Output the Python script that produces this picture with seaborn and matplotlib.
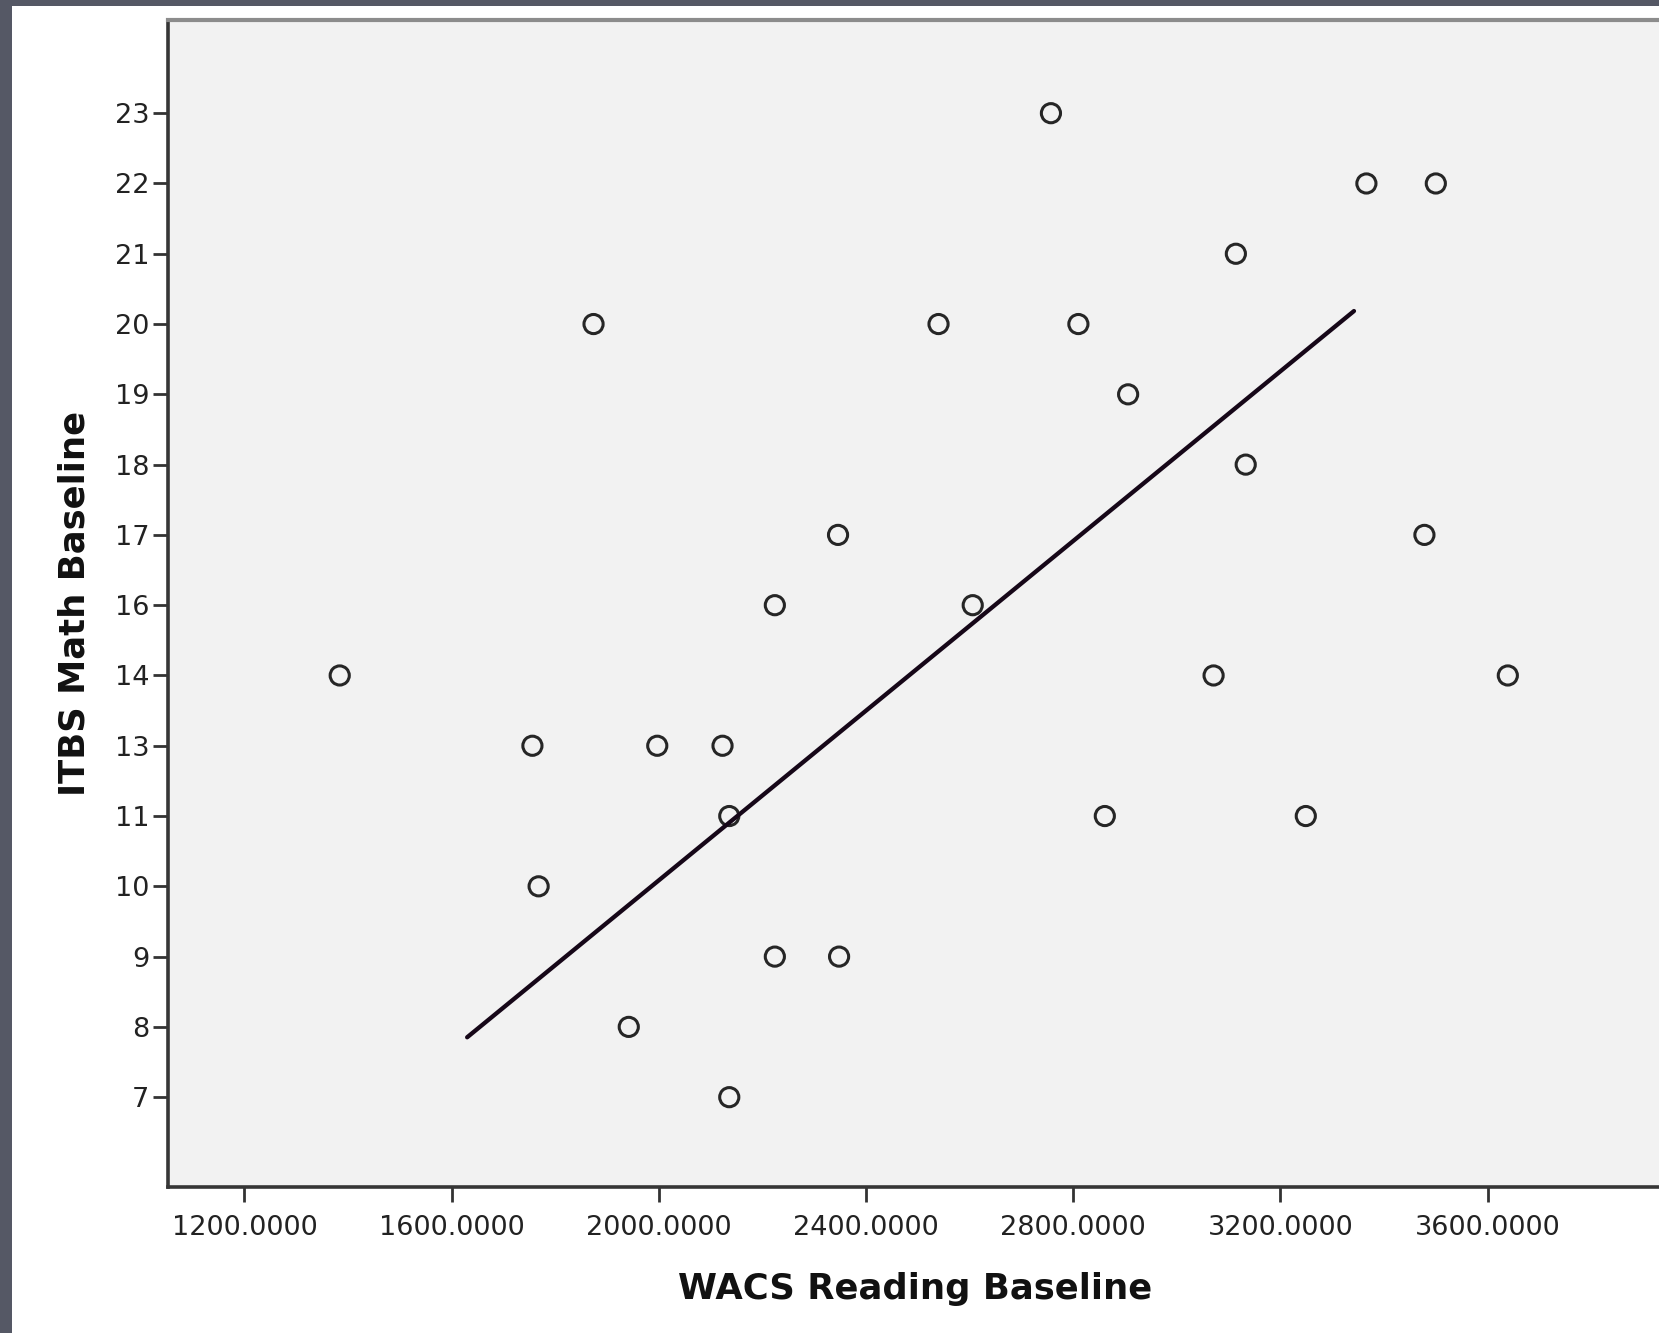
import matplotlib
matplotlib.use("Agg")
import matplotlib.pyplot as plt
from matplotlib.patches import Rectangle
import seaborn as sns
import pandas as pd

# WACS reading baseline scores and ITBS math baseline scores
wacs_reading = [1384, 1874, 1756, 1997, 2123, 1768, 1942, 2136, 2136,
                2224, 2224, 2346, 2348, 2540, 2606, 2757, 2810, 2861,
                2906, 3071, 3114, 3133, 3249, 3366, 3478, 3500, 3639]
itbs_math = [14, 20, 13, 13, 13, 10, 8, 11, 7,
             16, 9, 17, 9, 20, 16, 23, 20, 11,
             19, 14, 21, 18, 11, 22, 17, 22, 14]

# Observed ITBS values, shown as evenly spaced categories
math_levels = [7, 8, 9, 10, 11, 13, 14, 16, 17, 18, 19, 20, 21, 22, 23]

# Fit line end points (reading score, position on the category axis)
fit_reading = [1630, 3342]
fit_level_pos = [0.852, 11.185]

x_ticks = [1200, 1600, 2000, 2400, 2800, 3200, 3600]

df = pd.DataFrame({
    "WACS Reading Baseline": wacs_reading,
    "level_pos": [math_levels.index(v) for v in itbs_math],
})

sns.set_theme(style="white")
plt.rcParams["font.family"] = ["DejaVu Sans"]

W, H = 1659, 1333
fig = plt.figure(figsize=(W / 100, H / 100), dpi=100)
fig.patch.set_facecolor("#555865")
fig.add_artist(Rectangle((12 / W, 0), 1, 1 - 6 / H, transform=fig.transFigure,
                         facecolor="white", edgecolor="none", zorder=0))

ax_left, ax_right, ax_top, ax_bottom = 168, 1700, 20, 1187
ax = fig.add_axes([ax_left / W, (H - ax_bottom) / H,
                   (ax_right - ax_left) / W, (ax_bottom - ax_top) / H])
ax.set_facecolor("#f2f2f2")

sns.scatterplot(data=df, x="WACS Reading Baseline", y="level_pos", ax=ax,
                marker="o", s=190, facecolor="none", edgecolor="#262626",
                linewidth=2.2, zorder=3)
sns.lineplot(x=fit_reading, y=fit_level_pos, ax=ax, color="#160718",
             linewidth=3.1, zorder=4)

ax.set_xlim(1052.5, 4010)
ax.set_ylim(-1.278, 15.326)
ax.set_xticks(x_ticks)
ax.set_xticklabels([f"{v:.4f}" for v in x_ticks])
ax.set_yticks(range(len(math_levels)))
ax.set_yticklabels([str(v) for v in math_levels])

ax.tick_params(axis="both", which="major", bottom=True, left=True,
               direction="out", length=10.5, width=2.0,
               color="#333333", labelsize=19.5, labelcolor="#222222")
ax.tick_params(axis="x", pad=10)
ax.tick_params(axis="y", pad=3)

for side in ("left", "bottom"):
    ax.spines[side].set_color("#363636")
    ax.spines[side].set_linewidth(2.6)
ax.spines["top"].set_color("#8c8c8c")
ax.spines["top"].set_linewidth(3.0)
ax.spines["right"].set_visible(False)

ax.set_xlabel("WACS Reading Baseline", fontsize=25.5, fontweight="bold",
              color="#111111")
ax.set_ylabel("ITBS Math Baseline", fontsize=25.5, fontweight="bold",
              color="#111111")
ax.xaxis.set_label_coords((915 - ax_left) / (ax_right - ax_left), -0.073)
ax.yaxis.set_label_coords(-(ax_left - 92) / (ax_right - ax_left), 0.5)

fig.savefig("out.png", dpi=100, facecolor=fig.get_facecolor())
